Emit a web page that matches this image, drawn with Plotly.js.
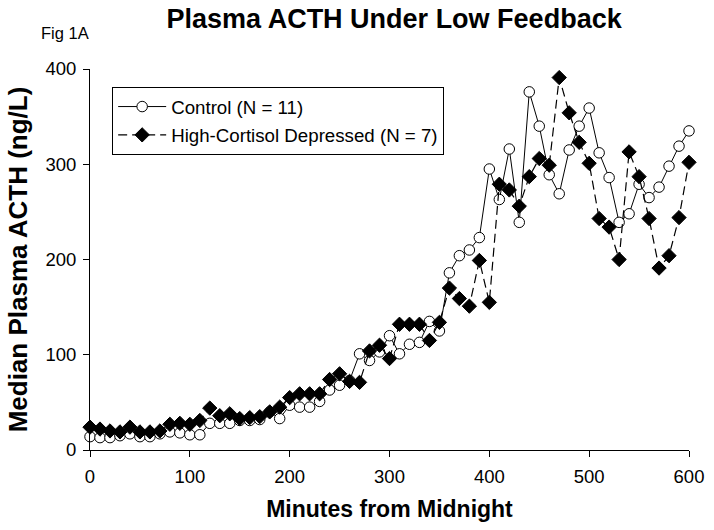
<!DOCTYPE html>
<html>
<head>
<meta charset="utf-8">
<script src="https://cdn.plot.ly/plotly-3.0.1.min.js"></script>
<style>html,body{margin:0;padding:0;background:#fff;}#chart{width:714px;height:530px;}</style>
</head>
<body>
<div id="chart"></div>
<script>
const minutes = [0,10,20,30,40,50,60,70,80,90,100,110,120,130,140,150,160,170,180,190,200,210,220,230,240,250,260,270,280,290,300,310,320,330,340,350,360,370,380,390,400,410,420,430,440,450,460,470,480,490,500,510,520,530,540,550,560,570,580,590,600];
const controlACTH = [14,13,13,15,17,14,14,17,19,18,16,16,28,28,28,31,31,32,40,33,47,45,45,51,63,68,73,101,94,103,120,101,111,113,135,125,186,204,210,223,295,263,316,239,376,340,289,269,315,340,359,312,286,239,248,279,265,276,298,319,335];
const depressedACTH = [24,22,20,19,24,19,19,20,27,28,27,31,44,36,38,33,34,35,40,45,55,59,59,59,74,80,72,71,104,110,96,132,132,132,115,134,170,159,151,199,155,279,273,256,287,306,299,391,354,323,301,243,234,200,313,287,243,191,204,244,302];
const seriesNames = ["Control (N = 11)", "High-Cortisol Depressed (N = 7)"];
const xTicks = [0,100,200,300,400,500,600];
const yTicks = [0,100,200,300,400];

const F = "Liberation Sans, Arial, sans-serif";
const traces = [
  {
    x: minutes, y: controlACTH, name: seriesNames[0], legendgroup: "a", type: "scatter", mode: "lines+markers",
    line: {color: "#000", width: 1},
    marker: {symbol: "circle", size: 10.5, color: "#fff", line: {color: "#000", width: 1}},
    cliponaxis: false
  },
  {
    x: minutes, y: depressedACTH, name: seriesNames[1], legendgroup: "b", type: "scatter", mode: "lines+markers",
    line: {color: "#000", width: 1.2, dash: "9px,5px"},
    marker: {symbol: "diamond", size: 11, color: "#000", line: {color: "#000", width: 1}},
    cliponaxis: false
  }
];

const layout = {
  width: 714, height: 530,
  margin: {l: 90, r: 25, t: 69, b: 80},
  paper_bgcolor: "#fff", plot_bgcolor: "#fff",
  font: {family: F, color: "#000", size: 18},
  showlegend: true,
  title: {text: "<b>Plasma ACTH Under Low Feedback</b>", font: {family: F, size: 27, color: "#000"}, x: 0.552, xanchor: "center", y: 0.965, yanchor: "middle"},
  xaxis: {
    range: [0, 600], tickvals: xTicks, ticktext: xTicks.map(String),
    showgrid: false, zeroline: false, showline: true, linecolor: "#000", linewidth: 1,
    ticks: "outside", ticklen: 6, tickcolor: "#000", tickfont: {size: 18.5, family: F},
    ticklabelstandoff: 4,
    title: {text: "<b>Minutes from Midnight</b>", font: {size: 23, family: F}, standoff: 14}
  },
  yaxis: {
    range: [0, 400], tickvals: yTicks, ticktext: yTicks.map(String),
    showgrid: false, zeroline: false, showline: true, linecolor: "#000", linewidth: 1,
    ticks: "outside", ticklen: 6, tickcolor: "#000", tickfont: {size: 18.5, family: F},
    ticklabelstandoff: 3,
    title: {text: "<b>Median Plasma ACTH (ng/L)</b>", font: {size: 26, family: F}, standoff: 10}
  },
  legend: {
    x: 0.037, y: 0.953, xanchor: "left", yanchor: "top",
    bordercolor: "#000", borderwidth: 1, bgcolor: "#fff",
    font: {size: 18.7, family: F}, tracegroupgap: 1, itemwidth: 48
  },
  annotations: [
    {text: "Fig 1A", xref: "paper", yref: "paper", x: -0.085, y: 1.094, xanchor: "left", yanchor: "middle", showarrow: false, font: {size: 16.5, family: F, color: "#000"}}
  ]
};

Plotly.newPlot("chart", traces, layout, {displayModeBar: false, staticPlot: true});
</script>
</body>
</html>
